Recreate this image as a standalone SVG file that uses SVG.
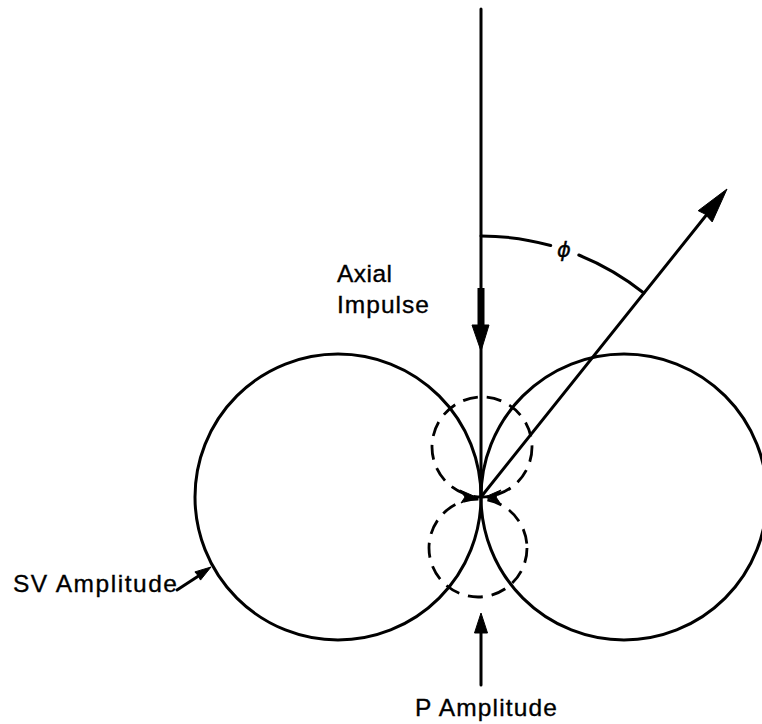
<svg xmlns="http://www.w3.org/2000/svg" width="762" height="724" viewBox="0 0 762 724">
<style>
.ln{fill:none;stroke:#000;stroke-width:3;stroke-linecap:round}
.dash{fill:none;stroke:#000;stroke-width:2.8;stroke-dasharray:15 9}
.hd{fill:#000;stroke:#000;stroke-width:1;stroke-linejoin:round}
.lbl{font-family:"Liberation Sans",Arial,sans-serif;font-size:24.5px;fill:#000;stroke:#000;stroke-width:0.35}
</style>
<rect width="762" height="724" fill="#fff"/>
<g id="sv-left-lobe"><circle class="ln" cx="338" cy="497" r="143"/></g>
<g id="sv-right-lobe"><circle class="ln" cx="624" cy="497" r="143"/></g>
<g id="p-upper-lobe"><circle class="dash" cx="482" cy="447" r="50"/></g>
<g id="p-lower-lobe"><circle class="dash" cx="478" cy="548" r="49"/></g>
<g id="connectors">
  <line class="ln" x1="481" y1="9" x2="481" y2="497"/>
  <rect x="477.5" y="288" width="7" height="38" fill="#000"/>
  <polygon class="hd" points="472,325 489,325 481,351"/>
  <line class="ln" x1="481" y1="497" x2="712" y2="208"/>
  <polygon class="hd" points="727,189 712.2,221.9 705,214 698.2,210.7"/>
  <path class="ln" d="M481,236 A261,261 0 0 1 550.7,245.5"/>
  <path class="ln" d="M578.8,255 A261,261 0 0 1 643.8,293"/>
  <polygon class="hd" points="460,490 476,497 461,503 465,497"/>
  <polygon class="hd" points="501,490 485,497 500,503 496,497"/>
  <line class="ln" x1="177" y1="590" x2="200" y2="575"/>
  <polygon class="hd" points="211,567 200.5,580.1 198,575.5 194.9,571.9"/>
  <line class="ln" x1="481" y1="685" x2="481" y2="630"/>
  <polygon class="hd" points="481,613 474.5,633 487.5,633"/>
</g>
<g id="labels">
  <text class="lbl" x="337" y="282" textLength="55" lengthAdjust="spacing">Axial</text>
  <text class="lbl" x="337" y="313" textLength="92" lengthAdjust="spacing">Impulse</text>
  <text class="lbl" x="13" y="592" textLength="164" lengthAdjust="spacing">SV Amplitude</text>
  <text class="lbl" x="415" y="716" textLength="142" lengthAdjust="spacing">P Amplitude</text>
  <text x="564" y="257" text-anchor="middle" style="font-family:'DejaVu Sans',sans-serif;font-size:21px;font-style:italic;stroke:#000;stroke-width:0.4">ϕ</text>
</g>
</svg>
